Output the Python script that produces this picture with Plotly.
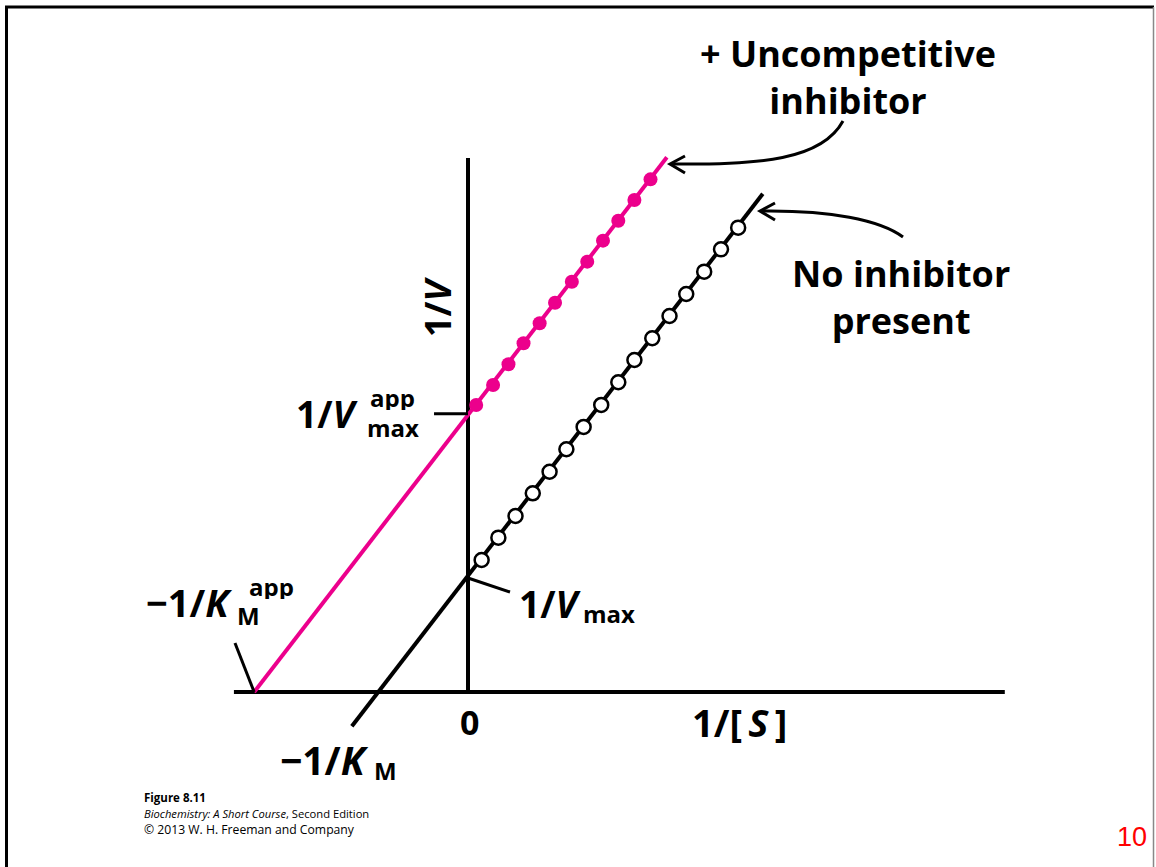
import plotly.graph_objects as go

W, H = 1156, 867
MAGENTA = '#EC008C'
FONT = 'Open Sans'

# ---- data (1/[S] on x, 1/V on y) ----
open_x = [0.155, 0.345, 0.54, 0.736, 0.927, 1.118, 1.314, 1.514, 1.708, 1.891,
          2.094, 2.29, 2.48, 2.684, 2.875, 3.07]
open_y = [1.158, 1.354, 1.544, 1.743, 1.932, 2.129, 2.325, 2.518, 2.717, 2.912,
          3.103, 3.298, 3.491, 3.687, 3.883, 4.073]
filled_x = [0.093, 0.285, 0.46, 0.631, 0.814, 0.989, 1.18, 1.355, 1.534, 1.708,
            1.891, 2.074]
filled_y = [2.518, 2.693, 2.875, 3.059, 3.234, 3.415, 3.599, 3.775, 3.959, 4.134,
            4.316, 4.497]
line_none_x = [-1.32, 3.35]
line_none_y = [-0.30, 4.37]
line_inhib_x = [-2.43, 2.26]
line_inhib_y = [0.0, 4.69]
xaxis_extent = [-2.66, 6.10]
yaxis_extent = [0.0, 4.684]
vmax_app_tick_x = [-0.386, 0.0]
vmax_app_tick_y = [2.44, 2.44]
vmax_tick_x = [0.0, 0.477]
vmax_tick_y = [1.0, 0.877]
km_app_tick_x = [-2.648, -2.43]
km_app_tick_y = [0.43, 0.0]

# ---- layout geometry (pixel position of the origin and scale) ----
X0PX, Y0PX, PXX, PXY = 468, 692, 88, 114
xr = [(0 - X0PX) / PXX, (W - X0PX) / PXX]
yr = [(Y0PX - H) / PXY, Y0PX / PXY]


def P(x, y):
    return x / W, 1 - y / H


fig = go.Figure()


def line(xs, ys, color='black', width=4):
    fig.add_trace(go.Scatter(x=xs, y=ys, mode='lines',
                             line=dict(color=color, width=width),
                             hoverinfo='skip', showlegend=False))


line(xaxis_extent, [0, 0])
line([0, 0], yaxis_extent)
line(line_inhib_x, line_inhib_y, MAGENTA, 4)
line(line_none_x, line_none_y, 'black', 4)
line(vmax_app_tick_x, vmax_app_tick_y, 'black', 3)
line(vmax_tick_x, vmax_tick_y, 'black', 3)
line(km_app_tick_x, km_app_tick_y, 'black', 3)

fig.add_trace(go.Scatter(x=filled_x, y=filled_y, mode='markers',
                         marker=dict(symbol='circle', size=14, color=MAGENTA,
                                     line=dict(width=0)),
                         hoverinfo='skip', showlegend=False))
fig.add_trace(go.Scatter(x=open_x, y=open_y, mode='markers',
                         marker=dict(symbol='circle', size=14, color='white',
                                     line=dict(width=2.5, color='black')),
                         hoverinfo='skip', showlegend=False))

shapes = []


def path_px(cmds):
    out = []
    for c in cmds:
        if isinstance(c, str):
            out.append(c)
        else:
            px, py = P(*c)
            out.append(f'{px:.5f},{py:.5f}')
    return ' '.join(out)


# curved arrows
shapes.append(dict(type='path', xref='paper', yref='paper',
                   path=path_px(['M', (843, 121), 'C', (822, 160), (760, 165), (671, 164)]),
                   line=dict(color='black', width=3)))
shapes.append(dict(type='path', xref='paper', yref='paper',
                   path=path_px(['M', (685, 156), 'L', (670, 164), 'L', (685, 173)]),
                   line=dict(color='black', width=3)))
shapes.append(dict(type='path', xref='paper', yref='paper',
                   path=path_px(['M', (903, 237), 'C', (880, 220), (830, 210), (761, 211)]),
                   line=dict(color='black', width=3)))
shapes.append(dict(type='path', xref='paper', yref='paper',
                   path=path_px(['M', (775, 203), 'L', (760, 211), 'L', (775, 220)]),
                   line=dict(color='black', width=3)))


# frame
def seg(x0, y0, x1, y1, color, width):
    a = P(x0, y0)
    b = P(x1, y1)
    shapes.append(dict(type='line', xref='paper', yref='paper',
                       x0=a[0], y0=a[1], x1=b[0], y1=b[1],
                       line=dict(color=color, width=width)))


seg(5, 7, 1154, 7, 'black', 3)
seg(6.5, 6, 6.5, 867, 'black', 3)
seg(1153.5, 7, 1153.5, 867, '#888888', 1.5)

annotations = []


def text(t, x, y, size=38, xanchor='center', yanchor='middle', color='black',
         family=FONT, angle=0, height=None):
    px, py = P(x, y)
    a = dict(text=t, x=px, y=py, xref='paper', yref='paper',
             xanchor=xanchor, yanchor=yanchor, showarrow=False,
             textangle=angle, align='center',
             font=dict(family=family, size=size, color=color))
    if height is not None:
        a['height'] = height
    annotations.append(a)


text('<b>+ Uncompetitive<br>inhibitor</b>', 848, 77, 36)
text('<b>No inhibitor<br>present</b>', 901, 297, 36)
text('<b>1/<i>V</i></b>', 437, 307, 36, angle=-90)

# 1/V^app_max
text('<b>1/<i>V</i></b>', 360, 413, 37, xanchor='right')
text('<b>app</b>', 368, 397, 24, xanchor='left', height=26)
text('<b>max</b>', 365, 427, 24, xanchor='left', height=26)

# -1/K_M^app
text('<b>\u22121/<i>K</i></b>', 234, 602, 38, xanchor='right')
text('<b>app</b>', 247, 586, 24, xanchor='left', height=26)
text('<b>M</b>', 235, 615, 24, xanchor='left', height=26)

# 1/V_max
text('<b>1/<i>V</i></b>', 517, 603, 37, xanchor='left')
text('<b>max</b>', 581, 613, 24, xanchor='left')

text('<b>0</b>', 469, 722, 34)
text('<b>1/[\u2009<i>S</i>\u2009]</b>', 739, 722, 38)

# -1/K_M
text('<b>\u22121/<i>K</i></b>', 371, 759, 39, xanchor='right')
text('<b>M</b>', 372, 770, 24, xanchor='left')

text('<b>Figure 8.11</b>', 142, 797, 11.5, xanchor='left')
text('<i>Biochemistry: A Short Course</i>, Second Edition', 142, 813, 11.2, xanchor='left')
text('\u00a9 2013 W. H. Freeman and Company', 142, 829, 12.2, xanchor='left')
text('10', 1132, 837, 27, color='red', family='Liberation Sans, Arial')

fig.update_layout(
    width=W, height=H, margin=dict(l=0, r=0, t=0, b=0),
    paper_bgcolor='white', plot_bgcolor='white',
    xaxis=dict(range=xr, visible=False, fixedrange=True),
    yaxis=dict(range=yr, visible=False, fixedrange=True),
    shapes=shapes, annotations=annotations, showlegend=False,
)

fig.write_html('out.html', config={'displayModeBar': False},
               post_script="document.body.style.margin='0';document.body.style.overflow='hidden';")
